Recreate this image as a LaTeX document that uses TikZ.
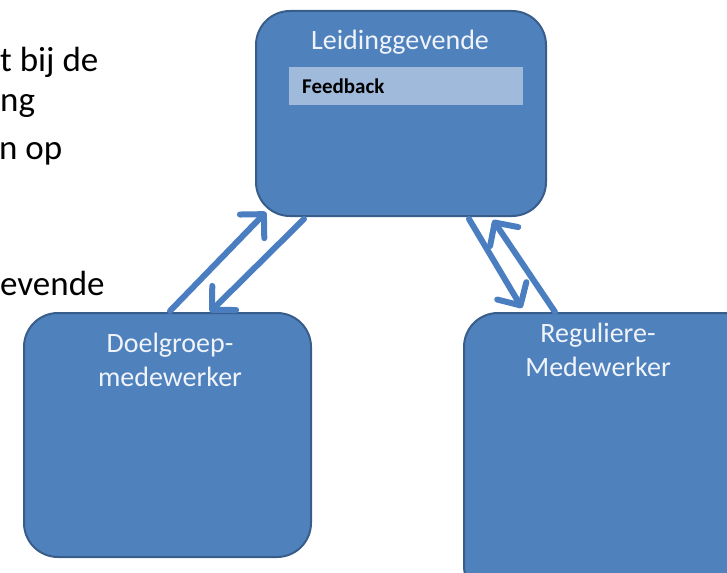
\documentclass[tikz,border=0pt]{standalone}
\usepackage{fontspec}
\setmainfont{Carlito}
\usetikzlibrary{arrows.meta}
\definecolor{boxfill}{RGB}{79,129,189}
\definecolor{boxdraw}{RGB}{56,93,138}
\definecolor{barfill}{RGB}{160,186,220}
\definecolor{arrowcol}{RGB}{74,126,192}
\definecolor{labeltext}{RGB}{240,244,250}
\tikzset{
  bigbox/.style={draw=boxdraw, line width=2pt, fill=boxfill, rounded corners=34pt},
  boxlabel/.style={text=labeltext, font=\fontsize{28}{34}\selectfont, align=center, inner sep=0pt},
  sidetext/.style={anchor=base west, inner sep=0pt, font=\fontsize{35}{40}\selectfont, text=black},
  flow/.style={draw=arrowcol, line width=6pt, line cap=round,
    -{Straight Barb[angle=90:24pt, round]}}
}
\begin{document}
\begin{tikzpicture}[x=1pt,y=-1pt]
\useasboundingbox (0,0) rectangle (727,572);
\begin{scope}
\clip (0,0) rectangle (727,572);
% left fragments of text
\node[sidetext] (t1) at (0,72) {t bij de};
\node[sidetext] (t2) at (0,112) {ng};
\node[sidetext] (t3) at (-1,160) {n op};
\node[sidetext] (t4) at (0,295) {evende};
% boxes
\draw[bigbox] (256,11) rectangle (546,216);
\node[draw=none, minimum width=290pt, minimum height=205pt, inner sep=0pt] (top) at (401,113.5) {};
\draw[bigbox] (24,313) rectangle (311,557);
\node[minimum width=287pt, minimum height=244pt, inner sep=0pt] (dg) at (167.5,435) {};
\draw[bigbox] (464,313) rectangle (760,600);
\node[minimum width=296pt, minimum height=287pt, inner sep=0pt] (rm) at (612,456.5) {};
% feedback bar
\node[fill=barfill, minimum width=234pt, minimum height=38pt, inner sep=0pt] (fb) at (406,86) {};
\node[anchor=west, inner sep=0pt, font=\bfseries\fontsize{21}{24}\selectfont] (fbt) at (302,86) {Feedback};
% labels
\node[boxlabel] (tl) at (400,42) {Leidinggevende};
\node[boxlabel] (dl) at (170,360) {Doelgroep-\\medewerker};
\node[boxlabel] (rl) at (598,350) {Reguliere-\\Medewerker};
% connector end points
\coordinate (a1s) at (170,311);
\coordinate (a1e) at (266,212);
\coordinate (a2s) at (304,219);
\coordinate (a2e) at (210,312);
\coordinate (a3s) at (469,219);
\coordinate (a3e) at (522,308);
\coordinate (a4s) at (555,312);
\coordinate (a4e) at (493,220);
\draw[flow] (a1s) -- (a1e);
\draw[flow] (a2s) -- (a2e);
\draw[flow] (a3s) -- (a3e);
\draw[flow] (a4s) -- (a4e);
\end{scope}
\end{tikzpicture}
\end{document}
